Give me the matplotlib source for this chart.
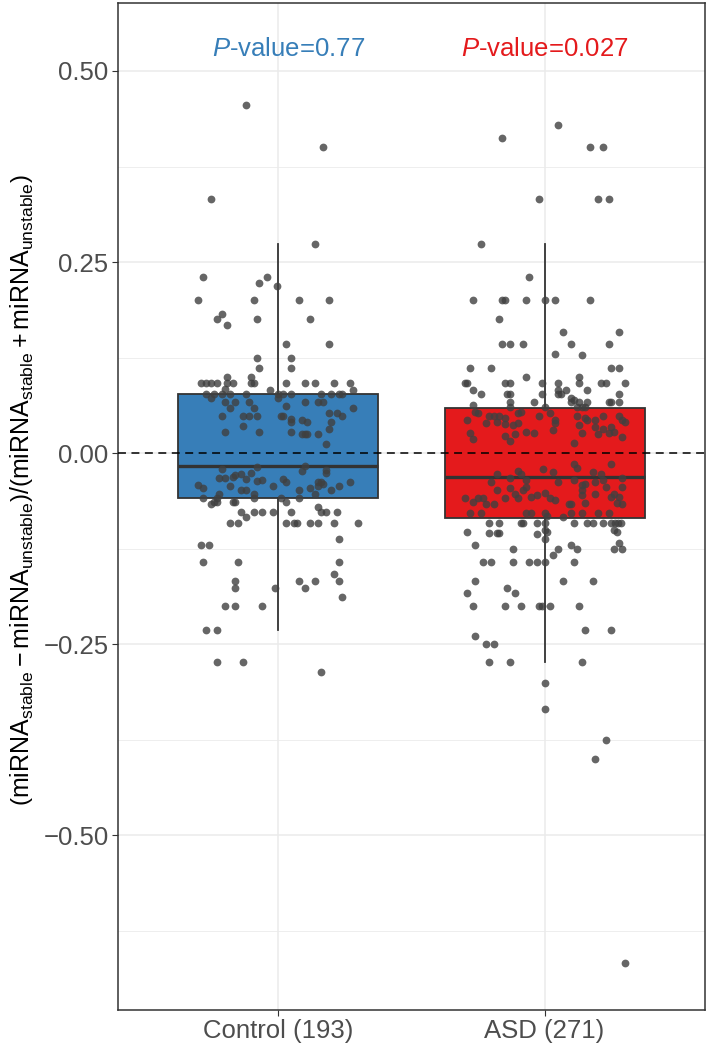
import matplotlib
matplotlib.use('Agg')
import matplotlib.pyplot as plt

# ---------------- data ----------------
groups = ['Control (193)', 'ASD (271)']
box_colors = ['#377EB8', '#E41A1C']
p_values = ['0.77', '0.027']

# box statistics
q1 = [-0.059, -0.0855]
medians = [-0.017, -0.032]
q3 = [0.077, 0.059]
whis_lo = [-0.232, -0.274]
whis_hi = [0.273, 0.273]

# jittered points: (value, [horizontal jitter offsets from the group centre])
control_rows = [
    (0.455, [-0.12]), (0.400, [0.17]), (0.333, [-0.25]), (0.273, [0.14]),
    (0.231, [-0.28, -0.04]), (0.222, [-0.07]), (0.218, [-0.005]),
    (0.200, [-0.30, -0.09, 0.08, 0.19]), (0.182, [-0.21]),
    (0.176, [-0.23, -0.08, 0.12]), (0.167, [-0.19]), (0.143, [0.03, 0.19]),
    (0.125, [-0.08, 0.05]), (0.111, [-0.07, 0.05]), (0.100, [-0.19, -0.10]),
    (0.091, [-0.29, -0.27, -0.25, -0.23, -0.19, -0.17, -0.10, -0.09, 0.03, 0.10, 0.14, 0.21, 0.27]),
    (0.084, [-0.20]), (0.083, [-0.03, 0.28]),
    (0.077, [-0.27, -0.24, -0.21, -0.18, -0.12, 0.00, 0.02, 0.05, 0.16, 0.20, 0.23, 0.24]),
    (0.072, [-0.25, 0.00]), (0.067, [-0.20, -0.16, -0.11, 0.10, 0.15, 0.17]),
    (0.062, [0.03]), (0.059, [-0.18, -0.09, 0.28]), (0.052, [0.19, 0.22]),
    (0.048, [-0.21, -0.13, -0.11, -0.08, 0.01, 0.02, 0.24]),
    (0.044, [0.05]), (0.043, [0.09]), (0.040, [0.05, 0.11, 0.20]),
    (0.035, [-0.13]), (0.032, [0.19]), (0.027, [-0.20, -0.07]), (0.028, [0.05]),
    (0.025, [0.09, 0.10, 0.11, 0.15]), (0.012, [0.18]),
    (-0.017, [0.10]), (-0.018, [-0.08]), (-0.021, [-0.21]), (-0.022, [0.18]),
    (-0.023, [0.09]), (-0.026, [-0.10, 0.18]), (-0.027, [-0.14]), (-0.029, [-0.16]),
    (-0.031, [-0.17]), (-0.033, [-0.22, -0.20]), (-0.034, [-0.12, 0.02]),
    (-0.035, [-0.06]), (-0.036, [-0.08]), (-0.038, [0.03, 0.15, 0.16, 0.27]),
    (-0.041, [0.17]), (-0.042, [-0.30]), (-0.043, [-0.18, -0.02, 0.15, 0.23]),
    (-0.046, [-0.28, 0.12]), (-0.048, [-0.14, -0.12, 0.08, 0.20]),
    (-0.053, [-0.22, -0.09, 0.14]), (-0.059, [-0.28, -0.23, -0.09, 0.01, 0.08]),
    (-0.064, [-0.24, -0.23, -0.17, -0.16, 0.03]), (-0.067, [-0.25]), (-0.071, [0.15]),
    (-0.077, [-0.14, -0.09, -0.06, -0.02, 0.05, 0.16, 0.18, 0.22]), (-0.084, [-0.12]),
    (-0.091, [-0.18, -0.15, 0.03, 0.06, 0.07, 0.12, 0.15, 0.21, 0.30]),
    (-0.112, [0.23]), (-0.121, [-0.29, -0.26]), (-0.143, [-0.28, -0.15, 0.23]),
    (-0.158, [0.21]), (-0.167, [-0.16, 0.08, 0.14, 0.23]), (-0.177, [-0.16, -0.01, 0.10]),
    (-0.188, [0.24]), (-0.200, [-0.20, -0.16, -0.06]), (-0.232, [-0.27, -0.23]),
    (-0.273, [-0.23, -0.13]), (-0.287, [0.16]),
]

asd_rows = [
    (0.429, [0.05]), (0.412, [-0.16]), (0.400, [0.17, 0.22]), (0.333, [-0.02, 0.20, 0.24]),
    (0.273, [-0.24]), (0.231, [-0.06]),
    (0.200, [-0.27, -0.16, -0.15, -0.07, 0.00, 0.04, 0.17]), (0.176, [-0.17]),
    (0.158, [0.07, 0.28]), (0.143, [-0.16, -0.13, -0.08, 0.10, 0.24]),
    (0.130, [0.04]), (0.128, [0.14]), (0.111, [-0.28, -0.20, 0.25, 0.28]),
    (0.100, [-0.07, 0.13]),
    (0.091, [-0.30, -0.29, -0.15, -0.13, -0.01, 0.05, 0.13, 0.21, 0.23, 0.30]),
    (0.083, [-0.27, 0.05, 0.08, 0.16]),
    (0.077, [-0.24, -0.14, -0.13, -0.01, 0.05, 0.06, 0.28]),
    (0.072, [0.10]), (0.070, [0.11]),
    (0.067, [-0.13, -0.04, 0.10, 0.13, 0.16, 0.24, 0.25, 0.28]),
    (0.063, [-0.27]), (0.060, [-0.13, 0.00, 0.12, 0.14, 0.15]),
    (0.054, [-0.26, -0.09]), (0.052, [-0.25, -0.10, 0.02]),
    (0.048, [-0.21, -0.19, -0.17, -0.02, 0.12, 0.22, 0.28]), (0.046, [-0.15, 0.15]),
    (0.043, [-0.29, 0.04, 0.16, 0.19, 0.29]), (0.041, [-0.18, 0.30]),
    (0.039, [-0.22, -0.10, 0.04]), (0.038, [-0.15]), (0.037, [-0.12, 0.13]),
    (0.034, [0.19, 0.25]), (0.032, [0.22]), (0.030, [0.03]), (0.028, [-0.07, 0.26]),
    (0.026, [-0.28, -0.04, 0.14, 0.24]), (0.025, [-0.11, 0.20]), (0.022, [-0.15]),
    (0.021, [0.29]), (0.018, [-0.27]), (0.016, [-0.13]), (0.013, [0.11]),
    (-0.014, [0.11, 0.25]), (-0.020, [0.12]), (-0.021, [-0.005]), (-0.024, [-0.10]),
    (-0.025, [0.03, 0.18]), (-0.027, [-0.18, -0.09]), (-0.028, [0.21]),
    (-0.033, [-0.13, 0.29]), (-0.035, [-0.07, 0.11, 0.22]), (-0.038, [-0.20, 0.05, 0.19]),
    (-0.040, [0.15]), (-0.042, [0.14]), (-0.044, [-0.07, 0.23, 0.29]), (-0.046, [-0.13]),
    (-0.048, [-0.18, -0.08, 0.14]), (-0.052, [0.00]), (-0.053, [-0.11, 0.19, 0.26]),
    (-0.055, [-0.03, 0.14]), (-0.057, [-0.05, 0.25, 0.28]),
    (-0.059, [-0.30, -0.25, -0.23, -0.15, -0.10, 0.02]), (-0.062, [0.04]),
    (-0.064, [-0.27]), (-0.066, [0.15, 0.27]), (-0.067, [-0.22, -0.19, 0.09, 0.10, 0.29]),
    (-0.078, [-0.28, -0.24, -0.07, -0.05, 0.00, 0.10, 0.14, 0.20, 0.24]),
    (-0.083, [0.01]), (-0.084, [0.07]),
    (-0.091, [-0.21, -0.17, -0.09, -0.08, -0.03, 0.00, 0.11, 0.16, 0.18, 0.22, 0.25, 0.265, 0.275, 0.285]),
    (-0.101, [0.00, 0.26]), (-0.103, [-0.29, 0.01, 0.27]), (-0.105, [-0.21, -0.18, -0.17]),
    (-0.106, [-0.03]), (-0.112, [0.00]), (-0.118, [0.28]), (-0.121, [-0.26, 0.10]),
    (-0.125, [-0.12, 0.05, 0.12, 0.26, 0.29]), (-0.134, [0.03]),
    (-0.143, [-0.23, -0.20, -0.12, -0.06, -0.03, 0.00, 0.11]),
    (-0.167, [-0.26, 0.07, 0.18]), (-0.177, [-0.14]), (-0.183, [-0.29, -0.11]),
    (-0.200, [-0.27, -0.15, -0.09, -0.02, -0.01, 0.02, 0.13]),
    (-0.232, [0.15, 0.25]), (-0.239, [-0.26]), (-0.250, [-0.22, -0.19]),
    (-0.274, [-0.21, -0.13, 0.14]), (-0.301, [0.00]), (-0.335, [0.00]),
    (-0.376, [0.23]), (-0.401, [0.19]), (-0.668, [0.30]),
]

y_major = [-0.50, -0.25, 0.00, 0.25, 0.50]
y_minor = [-0.625, -0.375, -0.125, 0.125, 0.375]
y_major_labels = ['\u22120.50', '\u22120.25', '0.00', '0.25', '0.50']

# ---------------- styling ----------------
plt.rcParams['font.family'] = ['Liberation Sans', 'DejaVu Sans']
plt.rcParams['mathtext.fontset'] = 'custom'
plt.rcParams['mathtext.rm'] = 'Liberation Sans'
plt.rcParams['mathtext.it'] = 'Liberation Sans:italic'
plt.rcParams['mathtext.bf'] = 'Liberation Sans:bold'

W, H = 706, 1044
fig = plt.figure(figsize=(W / 100, H / 100), dpi=100)
left_px, right_px, top_px, bot_px = 118, 704.5, 3, 1010
ax = fig.add_axes([left_px / W, 1 - bot_px / H, (right_px - left_px) / W, (bot_px - top_px) / H])

positions = [1, 2]

# boxes
stats = []
for i in range(2):
    stats.append(dict(med=medians[i], q1=q1[i], q3=q3[i],
                      whislo=whis_lo[i], whishi=whis_hi[i], fliers=[]))
bp = ax.bxp(stats, positions=positions, widths=0.75, patch_artist=True,
            showfliers=False, showcaps=False, manage_ticks=False,
            boxprops=dict(edgecolor='#333333', linewidth=1.3),
            whiskerprops=dict(color='#333333', linewidth=1.3),
            medianprops=dict(color='#333333', linewidth=2.4, solid_capstyle='butt'),
            zorder=2)
for patch, c in zip(bp['boxes'], box_colors):
    patch.set_facecolor(c)

ax.set_xlim(0.4, 2.6)
ax.set_ylim(-0.729, 0.589)

grid_col = '#EBEBEB'
ax.set_yticks(y_major)
ax.set_yticklabels(y_major_labels)
ax.set_yticks(y_minor, minor=True)
ax.set_xticks(positions)
ax.set_xticklabels(groups)
ax.grid(True, which='major', color=grid_col, lw=1.1, zorder=0)
ax.grid(True, which='minor', axis='y', color=grid_col, lw=0.6, zorder=0)
ax.set_axisbelow(True)
ax.tick_params(axis='both', which='major', length=4.3, width=0.8, color='#333333',
               labelcolor='#4D4D4D', labelsize=18.5, pad=2.5)
ax.tick_params(axis='both', which='minor', length=0)
for s in ax.spines.values():
    s.set_color('#333333')
    s.set_linewidth(1.1)

# zero reference line
ax.axhline(0, color='black', lw=1.1, dashes=(5.2, 3.6), zorder=3)

# jittered points
for pos, rows in zip(positions, [control_rows, asd_rows]):
    xs, ys = [], []
    for val, offs in rows:
        for o in offs:
            xs.append(pos + o)
            ys.append(val)
    ax.plot(xs, ys, 'o', ms=5.6, color='#404040', alpha=0.8, mec='none', zorder=4)

# p-value annotations
p_x = [1.04, 2.0]
for x, p, c in zip(p_x, p_values, box_colors):
    ax.text(x, 0.529, r'$\mathit{P}$-value=' + p, color=c, fontsize=18.5,
            ha='center', va='center', zorder=5)

# y label
ylab = (r'$\left(\mathrm{miRNA}_{\mathrm{stable}}-\mathrm{miRNA}_{\mathrm{unstable}}\right)'
        r'/\left(\mathrm{miRNA}_{\mathrm{stable}}+\mathrm{miRNA}_{\mathrm{unstable}}\right)$')
fig.text(22 / W, 1 - 490 / H, ylab, rotation=90, ha='center', va='center',
         fontsize=18, color='black')

fig.savefig('out.png', dpi=100)
